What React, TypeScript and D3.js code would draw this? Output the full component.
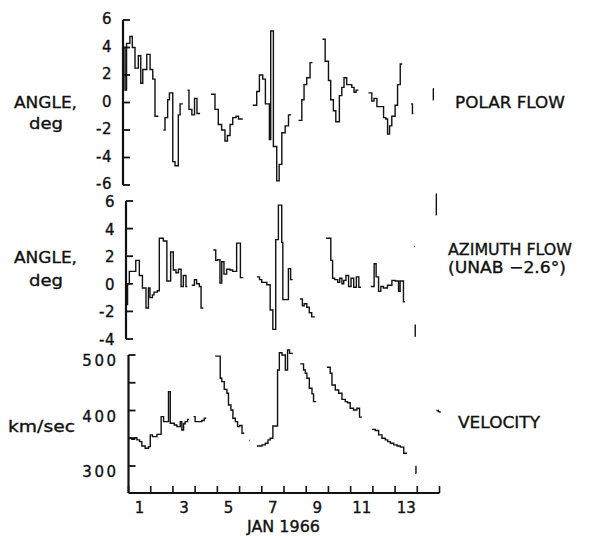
import React from "react";
import * as d3 from "d3";

type Pt = [number, number];

// Time axis: days elapsed since 00:00 UT on 1 January 1966
const DAYS = 14;
const dayTicks = d3.range(0, DAYS + 1);
const dayLabels = [1, 3, 5, 7, 9, 11, 13];

const polarTicks = [6, 4, 2, 0, -2, -4, -6];
const azimuthTicks = [6, 4, 2, 0, -2, -4];
const velocityTicks = [500, 450, 400, 350, 300];
const velocityTickLabels = [500, 400, 300];

// Each run is a list of [day, value] steps; the last entry closes the run.
const polarFlow: Pt[][] = [
  [[0.0, 4.0], [0.09, 0.9], [0.16, 4.3], [0.31, 4.8], [0.42, 4.0], [0.54, 2.5], [0.69, 3.4], [0.8, 1.4], [0.89, 2.4], [1.07, 3.5], [1.22, 2.4], [1.34, 1.7], [1.44, -1.0], [1.59, -1.0]],
  [[1.82, -2.0], [1.89, -1.1], [2.01, 0.2], [2.09, 0.7], [2.24, -4.3], [2.34, -4.6], [2.49, -0.9], [2.57, -0.1], [2.69, -0.1]],
  [[2.9, 0.9], [2.97, -0.5], [3.1, -0.9], [3.22, 0.3], [3.33, -0.8], [3.47, -0.8]],
  [[3.96, 0.6], [4.14, -0.5], [4.29, -1.6], [4.44, -2.0], [4.59, -2.8], [4.7, -2.4], [4.82, -1.6], [4.94, -1.1], [5.09, -1.0], [5.2, -1.2], [5.39, -1.2]],
  [[5.84, -0.2], [6.02, 0.8], [6.14, 2.0], [6.29, 1.7], [6.41, -0.1], [6.59, -2.7], [6.65, 5.2], [6.77, -3.2], [6.92, -5.7], [7.03, -4.5], [7.15, -2.2], [7.3, -1.7], [7.45, -0.9], [7.57, -0.9]],
  [[7.9, -1.3], [8.05, 0.2], [8.15, 1.3], [8.27, 1.8], [8.42, 2.9], [8.53, 2.9]],
  [[8.98, 4.6], [9.1, 3.0], [9.25, 1.6], [9.35, 0.2], [9.47, -0.6], [9.58, -1.4], [9.74, 0.5], [9.85, 1.1], [9.95, 1.8], [10.07, 1.3], [10.19, 1.3], [10.3, 1.1], [10.4, 0.75], [10.49, 0.9], [10.6, 0.9]],
  [[11.05, 0.7], [11.2, 0.1], [11.3, 0.3], [11.43, -0.3], [11.58, -0.3], [11.73, -1.1], [11.83, -1.2], [11.91, -2.3], [12.0, -1.7], [12.1, -1.0], [12.25, -0.2], [12.36, 1.3], [12.48, 2.8], [12.57, 2.8]],
  [[12.97, -0.1], [13.03, -0.8], [13.07, -0.8]],
  [[13.95, 1.0], [13.97, 0.2], [13.99, 0.2]],
];

const azimuthFlow: Pt[][] = [
  [[0.02, -1.5], [0.07, 0.0], [0.15, 0.9], [0.44, 1.7], [0.6, 0.6], [0.74, -0.3], [0.9, -1.75], [1.01, -0.3], [1.08, -1.0], [1.19, -0.8], [1.26, -0.6], [1.41, -0.5], [1.5, 3.3], [1.68, 3.1], [1.84, 0.2], [2.01, 2.3], [2.13, 1.0], [2.25, 0.8], [2.36, 1.05], [2.48, -0.2], [2.58, 0.6], [2.7, -0.2], [2.76, -0.2]],
  [[2.96, -0.1], [3.08, 0.3], [3.18, 0.0], [3.3, -0.2], [3.38, -1.75], [3.48, -1.75]],
  [[3.93, 2.45], [4.04, 1.7], [4.13, 1.75], [4.23, 0.05], [4.31, 1.6], [4.41, 0.7], [4.53, 1.05], [4.68, 1.0], [4.8, 0.9], [4.98, 2.95], [5.15, 0.45], [5.28, 0.45]],
  [[5.89, 0.5], [6.01, 0.3], [6.11, 0.1], [6.34, -0.07], [6.49, -1.9], [6.61, -3.3], [6.74, 3.2], [6.86, 5.7], [7.01, 3.0], [7.06, -1.15], [7.31, 1.1], [7.41, 0.3], [7.5, 0.3]],
  [[7.83, -1.1], [7.94, -1.6], [8.02, -1.45], [8.14, -1.7], [8.25, -2.1], [8.36, -2.4], [8.5, -2.4]],
  [[9.01, 3.3], [9.22, 1.7], [9.3, 0.4], [9.39, 0.3], [9.53, 0.1], [9.62, 0.4], [9.72, 0.0], [9.8, 0.25], [9.9, 0.6], [10.02, -0.2], [10.13, 0.4], [10.25, -0.25], [10.37, 0.5], [10.48, -0.25], [10.58, -0.25]],
  [[11.02, -0.2], [11.17, 1.45], [11.26, 0.5], [11.37, -0.55], [11.47, -0.2], [11.59, -0.3], [11.77, -0.1], [11.97, 0.25], [12.12, 0.2], [12.27, -0.55], [12.34, 0.2], [12.49, -1.3], [12.56, -1.3]],
  [[12.98, 2.7], [13.01, 2.7]],
  [[12.99, -3.0], [13.02, -3.8], [13.04, -3.8]],
  [[13.95, 6.5], [13.97, 5.0], [13.99, 5.0]],
];

const velocity: Pt[][] = [
  [[0.0, 351], [0.15, 348], [0.27, 351], [0.38, 347], [0.5, 344], [0.6, 336], [0.75, 332], [0.9, 335], [0.98, 356], [1.08, 353], [1.28, 357], [1.47, 389], [1.58, 380], [1.8, 434], [1.88, 377], [2.06, 374], [2.18, 371], [2.33, 380], [2.4, 365], [2.48, 376], [2.55, 380], [2.66, 384], [2.72, 384]],
  [[2.93, 389], [3.0, 380], [3.3, 382], [3.41, 386], [3.5, 386]],
  [[3.9, 498], [4.13, 458], [4.2, 452], [4.31, 438], [4.43, 431], [4.5, 410], [4.61, 401], [4.7, 386], [4.81, 380], [4.91, 371], [5.0, 373], [5.11, 359], [5.21, 359]],
  [[5.44, 346], [5.47, 346]],
  [[5.78, 336], [6.01, 338], [6.16, 341], [6.28, 347], [6.38, 350], [6.5, 372], [6.71, 473], [6.79, 504], [6.91, 500], [7.06, 473], [7.16, 509], [7.25, 503], [7.4, 503]],
  [[7.73, 484], [7.88, 473], [7.96, 467], [8.03, 458], [8.14, 440], [8.26, 430], [8.33, 416], [8.45, 416]],
  [[8.93, 478], [9.08, 467], [9.16, 446], [9.31, 437], [9.46, 431], [9.61, 420], [9.76, 416], [9.86, 414], [9.98, 404], [10.13, 401], [10.28, 404], [10.4, 388], [10.51, 388]],
  [[10.96, 366], [11.11, 364], [11.26, 356], [11.41, 350], [11.56, 347], [11.67, 344], [11.79, 341], [11.94, 338], [12.09, 336], [12.24, 334], [12.39, 323], [12.54, 323]],
  [[12.91, 299], [12.94, 287], [12.96, 287]],
  [[13.86, 400], [13.95, 398], [14.02, 396]],
];

const FONT = "'DejaVu Sans', sans-serif";
const INK = "#111";

const x = d3.scaleLinear().domain([0, DAYS]).range([0, 311]);

type PanelProps = {
  left: number;
  y: d3.ScaleLinear<number, number>;
  ticks: number[];
  tickLabels: number[];
  axisTop: number;
  axisBottom: number;
  runs: Pt[][];
  labelDx: number;
  labelDy: number;
  labelSpacing?: number;
  children?: React.ReactNode;
};

function Panel({ left, y, ticks, tickLabels, axisTop, axisBottom, runs, labelDx, labelDy, labelSpacing = 0, children }: PanelProps) {
  const line = d3
    .line<Pt>()
    .x((d) => x(d[0]))
    .y((d) => y(d[1]))
    .curve(d3.curveStepAfter);
  return (
    <g transform={`translate(${left},0)`}>
      <line x1={0} x2={0} y1={axisTop} y2={axisBottom} stroke={INK} strokeWidth={2.2} />
      {ticks.map((t) => (
        <line key={t} x1={0} x2={7} y1={y(t)} y2={y(t)} stroke={INK} strokeWidth={1.8} />
      ))}
      {tickLabels.map((t) => (
        <text
          key={t}
          x={labelDx}
          y={y(t) + labelDy}
          textAnchor="end"
          fontFamily={FONT}
          fontSize={15}
          letterSpacing={labelSpacing}
          fill={INK}
          stroke={INK}
          strokeWidth={0.35}
        >
          {t < 0 ? `-${Math.abs(t)}` : `${t}`}
        </text>
      ))}
      {runs.map((run, i) => (
        <path key={i} d={line(run) ?? ""} fill="none" stroke={INK} strokeWidth={1.4} strokeLinejoin="miter" />
      ))}
      {children}
    </g>
  );
}

function Label({ x: lx, y: ly, w, size = 16, children }: { x: number; y: number; w: number; size?: number; children: React.ReactNode }) {
  return (
    <text
      x={lx}
      y={ly}
      fontFamily={FONT}
      fontSize={size}
      textLength={w}
      lengthAdjust="spacingAndGlyphs"
      fill={INK}
      stroke={INK}
      strokeWidth={0.35}
    >
      {children}
    </text>
  );
}

export default function App() {
  const yPolar = d3.scaleLinear().domain([-6, 6]).range([185, 20]);
  const yAzimuth = d3.scaleLinear().domain([-4, 6]).range([339, 201]);
  const yVelocity = d3.scaleLinear().domain([300, 500]).range([466, 355]);
  const baseline = 493;

  return (
    <svg width={590} height={536} style={{ position: "absolute", left: 0, top: 0, background: "#fff" }}>
      <rect width={590} height={536} fill="#fff" />

      <Panel
        left={123}
        y={yPolar}
        ticks={polarTicks}
        tickLabels={polarTicks}
        axisTop={yPolar(6)}
        axisBottom={yPolar(-6)}
        runs={polarFlow}
        labelDx={-11}
        labelDy={4}
        labelSpacing={0.5}
      />

      <Panel
        left={126}
        y={yAzimuth}
        ticks={azimuthTicks}
        tickLabels={azimuthTicks}
        axisTop={yAzimuth(6)}
        axisBottom={yAzimuth(-4)}
        runs={azimuthFlow}
        labelDx={-11}
        labelDy={6}
        labelSpacing={0.5}
      />

      <Panel
        left={128.5}
        y={yVelocity}
        ticks={velocityTicks}
        tickLabels={velocityTickLabels}
        axisTop={yVelocity(500)}
        axisBottom={baseline}
        runs={velocity}
        labelDx={-10}
        labelDy={11}
        labelSpacing={2.5}
      >
        <line x1={0} x2={x(DAYS)} y1={baseline} y2={baseline} stroke={INK} strokeWidth={2} />
        {dayTicks.map((d) => (
          <line key={d} x1={x(d)} x2={x(d)} y1={baseline} y2={baseline - 7} stroke={INK} strokeWidth={1.6} />
        ))}
        {dayLabels.map((d) => (
          <text
            key={d}
            x={x(d - 0.5)}
            y={513}
            textAnchor="middle"
            fontFamily={FONT}
            fontSize={15}
            fill={INK}
            stroke={INK}
            strokeWidth={0.35}
          >
            {d}
          </text>
        ))}
      </Panel>

      <Label x={247} y={532} w={73} size={15}>JAN 1966</Label>

      <Label x={14} y={108} w={63}>ANGLE,</Label>
      <Label x={29} y={129} w={34}>deg</Label>
      <Label x={14} y={263} w={63}>ANGLE,</Label>
      <Label x={29} y={286} w={34}>deg</Label>
      <Label x={8} y={432} w={67}>km/sec</Label>

      <Label x={455} y={108} w={110}>POLAR FLOW</Label>
      <Label x={448} y={255} w={124}>AZIMUTH FLOW</Label>
      <Label x={448} y={273} w={118}>(UNAB −2.6°)</Label>
      <Label x={458} y={428} w={82}>VELOCITY</Label>
    </svg>
  );
}
